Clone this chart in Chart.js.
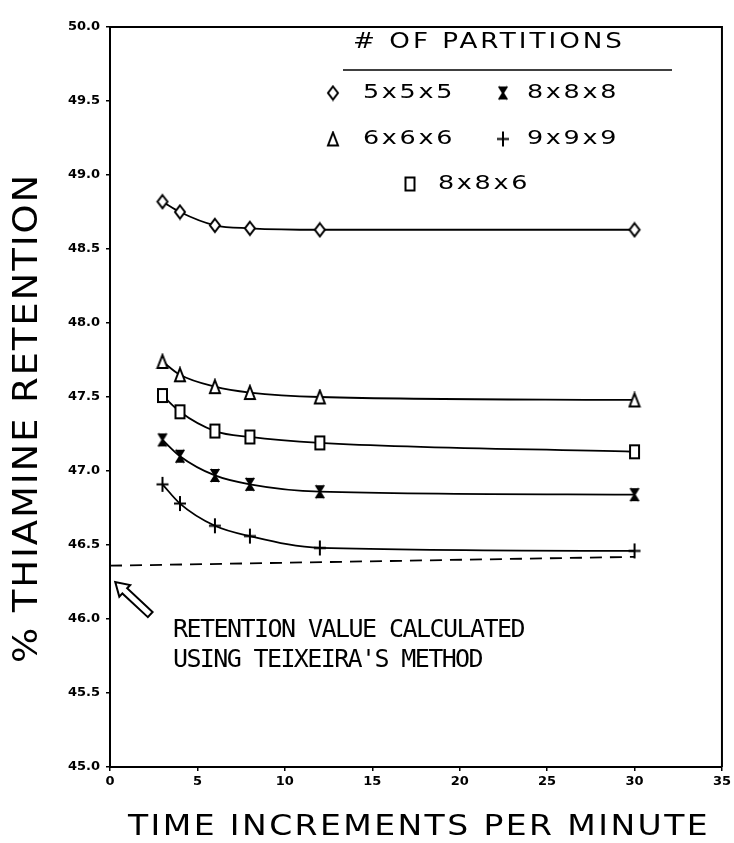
<!DOCTYPE html>
<html>
<head>
<meta charset="utf-8">
<script src="https://cdn.jsdelivr.net/npm/chart.js@4/dist/chart.umd.min.js"></script>
<style>
    html, body { margin: 0; padding: 0; background: #fff; }
    canvas { display: block; }
</style>
</head>
<body>
<canvas id="chart" width="734" height="843"></canvas>
<script>
// Time increments per minute (x) and % thiamine retention for each partition grid
const timeIncrements = [3, 4, 6, 8, 12, 30];
const partitionLabels = ['5x5x5', '6x6x6', '8x8x6', '8x8x8', '9x9x9'];
const retention5x5x5 = [48.82, 48.75, 48.66, 48.64, 48.63, 48.63];
const retention6x6x6 = [47.74, 47.65, 47.57, 47.53, 47.50, 47.48];
const retention8x8x6 = [47.51, 47.40, 47.27, 47.23, 47.19, 47.13];
const retention8x8x8 = [47.21, 47.10, 46.97, 46.91, 46.86, 46.84];
const retention9x9x9 = [46.91, 46.78, 46.63, 46.56, 46.48, 46.46];

// Teixeira's method reference line
const teixeiraX = [0, 30];
const teixeiraY = [46.36, 46.42];

// Axis ticks
const xTicks = [0, 5, 10, 15, 20, 25, 30, 35];
const yTicks = [45.0, 45.5, 46.0, 46.5, 47.0, 47.5, 48.0, 48.5, 49.0, 49.5, 50.0];

// --- hand drawn looking markers ---
function makeMarker(w, h, draw) {
    const c = document.createElement('canvas');
    c.width = w + 4;
    c.height = h + 4;
    const g = c.getContext('2d');
    g.translate(2, 2);
    g.lineWidth = 2;
    g.strokeStyle = '#000';
    g.fillStyle = '#fff';
    draw(g, w, h);
    return c;
}

const markers = {
    diamond: makeMarker(10, 13, (g, w, h) => {
        g.beginPath();
        g.moveTo(w / 2, 0); g.lineTo(w, h / 2); g.lineTo(w / 2, h); g.lineTo(0, h / 2);
        g.closePath(); g.fill(); g.stroke();
    }),
    triangle: makeMarker(10, 13, (g, w, h) => {
        g.beginPath();
        g.moveTo(w / 2, 0); g.lineTo(w, h); g.lineTo(0, h);
        g.closePath(); g.fill(); g.stroke();
    }),
    square: makeMarker(9, 13, (g, w, h) => {
        g.beginPath();
        g.rect(0, 0, w, h);
        g.fill(); g.stroke();
    }),
    hourglass: makeMarker(10, 13, (g, w, h) => {
        g.fillStyle = '#000';
        g.beginPath();
        g.moveTo(0, 0); g.lineTo(w, 0); g.lineTo(w / 2, h / 2); g.lineTo(w, h); g.lineTo(0, h); g.lineTo(w / 2, h / 2);
        g.closePath(); g.fill();
        g.beginPath();
        g.moveTo(w / 2, 0); g.lineTo(w / 2, h);
        g.moveTo(1, 0); g.lineTo(w - 1, h);
        g.moveTo(w - 1, 0); g.lineTo(1, h);
        g.stroke();
    }),
    plus: makeMarker(12, 15, (g, w, h) => {
        g.beginPath();
        g.moveTo(w / 2, 0); g.lineTo(w / 2, h);
        g.moveTo(0, h / 2); g.lineTo(w, h / 2);
        g.stroke();
    })
};

const seriesValues = [retention5x5x5, retention6x6x6, retention8x8x6, retention8x8x8, retention9x9x9];
const seriesMarkers = [markers.diamond, markers.triangle, markers.square, markers.hourglass, markers.plus];

const datasets = seriesValues.map((vals, i) => ({
    label: partitionLabels[i],
    data: timeIncrements.map((x, j) => ({ x: x, y: vals[j] })),
    borderColor: '#000',
    borderWidth: 1.8,
    pointStyle: seriesMarkers[i],
    pointRadius: 6,
    cubicInterpolationMode: 'monotone',
    fill: false
}));

datasets.push({
    label: 'Teixeira',
    data: teixeiraX.map((x, j) => ({ x: x, y: teixeiraY[j] })),
    borderColor: '#000',
    borderWidth: 1.8,
    borderDash: [12, 8],
    pointRadius: 0,
    fill: false
});

// draw text to a given width: part by stretching glyphs, part by letter spacing
function spreadText(ctx, text, x, y, width, stretchShare) {
    ctx.letterSpacing = '0px';
    const w = ctx.measureText(text).width;
    const extra = width - w;
    const sx = (w + extra * stretchShare) / w;
    const sp = extra * (1 - stretchShare) / text.length / sx;
    ctx.save();
    ctx.translate(x, y);
    ctx.scale(sx, 1);
    ctx.letterSpacing = sp + 'px';
    ctx.textAlign = 'left';
    ctx.fillText(text, 0, 0);
    ctx.restore();
    ctx.letterSpacing = '0px';
}

const decorations = {
    id: 'decorations',
    afterDraw(chart) {
        const ctx = chart.ctx;
        const area = chart.chartArea;
        const xs = chart.scales.x;
        const ys = chart.scales.y;
        ctx.save();
        ctx.fillStyle = '#000';
        ctx.strokeStyle = '#000';

        // top and right frame
        ctx.lineWidth = 2;
        ctx.beginPath();
        ctx.moveTo(area.left, area.top);
        ctx.lineTo(area.right, area.top);
        ctx.lineTo(area.right, area.bottom);
        ctx.stroke();

        // legend block
        ctx.textBaseline = 'middle';
        ctx.font = '21px "DejaVu Sans"';
        spreadText(ctx, '# OF PARTITIONS', 353, 43, 272, 0.5);
        ctx.lineWidth = 1.5;
        ctx.beginPath();
        ctx.moveTo(343, 70);
        ctx.lineTo(672, 70);
        ctx.stroke();

        const legendRows = [
            { m: 0, mx: 333, tx: 363, y: 93 },
            { m: 3, mx: 503, tx: 527, y: 93 },
            { m: 1, mx: 333, tx: 363, y: 139 },
            { m: 4, mx: 503, tx: 527, y: 139 },
            { m: 2, mx: 410, tx: 438, y: 184 }
        ];
        ctx.font = '19px "DejaVu Sans"';
        legendRows.forEach(r => {
            const img = seriesMarkers[r.m];
            ctx.drawImage(img, r.mx - img.width / 2, r.y - img.height / 2);
            spreadText(ctx, partitionLabels[r.m], r.tx, r.y, 92, 0.6);
        });

        // note about Teixeira's method
        ctx.font = '25px "DejaVu Sans Mono"';
        const noteX = xs.getPixelForValue(3.6);
        spreadText(ctx, 'RETENTION VALUE CALCULATED', noteX, ys.getPixelForValue(45.92), 351, 0);
        spreadText(ctx, "USING TEIXEIRA'S METHOD", noteX, ys.getPixelForValue(45.72), 309, 0);

        // hollow arrow pointing at the dashed line
        const tipX = xs.getPixelForValue(0.3), tipY = ys.getPixelForValue(46.25);
        const tailX = xs.getPixelForValue(2.3), tailY = ys.getPixelForValue(46.03);
        const ang = Math.atan2(tipY - tailY, tipX - tailX);
        const len = Math.hypot(tipX - tailX, tipY - tailY);
        ctx.translate(tailX, tailY);
        ctx.rotate(ang);
        ctx.beginPath();
        ctx.moveTo(0, -3.5);
        ctx.lineTo(len - 13, -3.5);
        ctx.lineTo(len - 13, -8);
        ctx.lineTo(len, 0);
        ctx.lineTo(len - 13, 8);
        ctx.lineTo(len - 13, 3.5);
        ctx.lineTo(0, 3.5);
        ctx.closePath();
        ctx.fillStyle = '#fff';
        ctx.fill();
        ctx.lineWidth = 2;
        ctx.stroke();
        ctx.restore();

        // axis titles
        ctx.save();
        ctx.fillStyle = '#000';
        ctx.textBaseline = 'middle';
        ctx.font = '29px "DejaVu Sans"';
        spreadText(ctx, 'TIME INCREMENTS PER MINUTE', 128, 827, 582, 0.5);
        ctx.translate(28, 418);
        ctx.rotate(-Math.PI / 2);
        ctx.font = '34px "DejaVu Sans"';
        spreadText(ctx, '% THIAMINE RETENTION', -245, 0, 490, 0.5);
        ctx.restore();
    }
};

new Chart(document.getElementById('chart'), {
    type: 'line',
    data: { datasets: datasets },
    options: {
        responsive: false,
        animation: false,
        layout: { padding: { top: 27, right: 10, left: 0, bottom: 0 } },
        plugins: {
            legend: { display: false },
            tooltip: { enabled: false }
        },
        scales: {
            x: {
                type: 'linear',
                min: 0,
                max: 35,
                afterFit: s => { s.height = 76; },
                afterBuildTicks: s => { s.ticks = xTicks.map(v => ({ value: v })); },
                ticks: {
                    color: '#000',
                    font: { family: 'DejaVu Sans', size: 13, weight: 'bold' },
                    padding: 3,
                    maxRotation: 0,
                    callback: v => String(v)
                },
                grid: { drawOnChartArea: false, drawTicks: true, tickLength: 4, color: '#000', lineWidth: 1.5 },
                border: { color: '#000', width: 2 }
            },
            y: {
                type: 'linear',
                min: 45,
                max: 50,
                afterFit: s => { s.width = 110; },
                afterBuildTicks: s => { s.ticks = yTicks.map(v => ({ value: v })); },
                ticks: {
                    color: '#000',
                    font: { family: 'DejaVu Sans', size: 13, weight: 'bold' },
                    padding: 6,
                    callback: v => Number(v).toFixed(1)
                },
                grid: { drawOnChartArea: false, drawTicks: true, tickLength: 4, color: '#000', lineWidth: 1.5 },
                border: { color: '#000', width: 2 }
            }
        }
    },
    plugins: [decorations]
});
</script>
</body>
</html>
